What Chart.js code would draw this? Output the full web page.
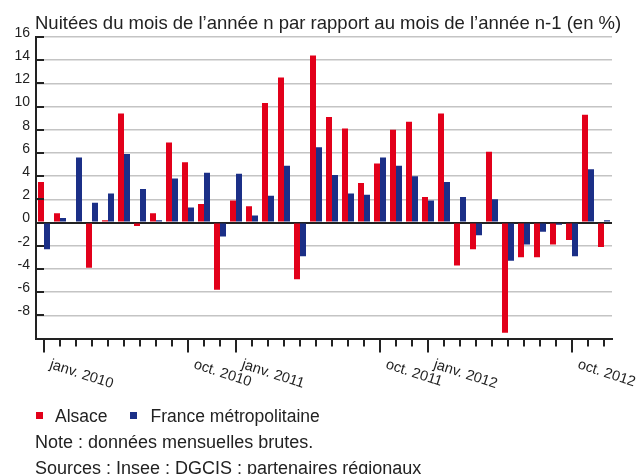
<!DOCTYPE html>
<html>
<head>
<meta charset="utf-8">
<script src="https://cdn.jsdelivr.net/npm/chart.js@4/dist/chart.umd.min.js"></script>
<style>
  html, body { margin: 0; padding: 0; background: #ffffff; }
  #c { display: block; }
</style>
</head>
<body>
<canvas id="c" width="637" height="474"></canvas>
<script>
// ---- Data ----
const months = [
  'janv. 2010','févr. 2010','mars 2010','avr. 2010','mai 2010','juin 2010',
  'juil. 2010','août 2010','sept. 2010','oct. 2010','nov. 2010','déc. 2010',
  'janv. 2011','févr. 2011','mars 2011','avr. 2011','mai 2011','juin 2011',
  'juil. 2011','août 2011','sept. 2011','oct. 2011','nov. 2011','déc. 2011',
  'janv. 2012','févr. 2012','mars 2012','avr. 2012','mai 2012','juin 2012',
  'juil. 2012','août 2012','sept. 2012','oct. 2012','nov. 2012','déc. 2012'
];
const alsace = [
  3.5, 0.8, 0.0, -3.9, 0.2, 9.4, -0.3, 0.8, 6.9, 5.2, 1.6, -5.8,
  1.9, 1.4, 10.3, 12.5, -4.9, 14.4, 9.1, 8.1, 3.4, 5.1, 8.0, 8.7,
  2.2, 9.4, -3.7, -2.3, 6.1, -9.5, -3.0, -3.0, -1.9, -1.5, 9.3, -2.1
];
const france = [
  -2.3, 0.4, 5.6, 1.7, 2.5, 5.9, 2.9, 0.2, 3.8, 1.3, 4.3, -1.2,
  4.2, 0.6, 2.3, 4.9, -2.9, 6.5, 4.1, 2.5, 2.4, 5.6, 4.9, 4.0,
  1.9, 3.5, 2.2, -1.1, 2.0, -3.3, -1.9, -0.8, -0.2, -2.9, 4.6, 0.2
];
const labelledMonths = ['janv. 2010','oct. 2010','janv. 2011','oct. 2011','janv. 2012','oct. 2012'];
const seriesNames = ['Alsace', 'France métropolitaine'];
const titleText = 'Nuitées du mois de l’année n par rapport au mois de l’année n-1 (en %)';
const noteText = 'Note : données mensuelles brutes.';
const sourceText = 'Sources : Insee ; DGCIS ; partenaires régionaux';
const yMin = -10, yMax = 16, yStep = 2;

// ---- Styles ----
const RED = '#e2001a';
const BLUE = '#1b2f87';
const AXIS = '#222222';
const GRID = '#c4c4c4';
const TEXT = '#222222';
const FONT = '"Liberation Sans", Arial, Helvetica, sans-serif';

const decor = {
  id: 'decor',
  afterDatasetsDraw(chart) {
    const { ctx, chartArea: a, scales: { x, y } } = chart;
    ctx.save();
    ctx.strokeStyle = AXIS;
    ctx.lineWidth = 2;
    // inward y tick marks
    y.ticks.forEach(t => {
      if (t.value === yMin) return;
      const py = Math.round(y.getPixelForValue(t.value));
      ctx.beginPath();
      ctx.moveTo(a.left, py);
      ctx.lineTo(a.left + 8, py);
      ctx.stroke();
    });
    // x tick marks below the axis
    months.forEach((m, i) => {
      const px = Math.round(x.getPixelForValue(i));
      const major = labelledMonths.includes(m);
      ctx.beginPath();
      ctx.moveTo(px, a.bottom);
      ctx.lineTo(px, a.bottom + (major ? 14 : 8));
      ctx.stroke();
    });
    ctx.restore();
  },
  afterDraw(chart) {
    const { ctx, chartArea: a, scales: { x } } = chart;
    ctx.save();
    ctx.fillStyle = TEXT;
    // rotated x labels
    ctx.font = '14.5px ' + FONT;
    ctx.textAlign = 'left';
    ctx.textBaseline = 'alphabetic';
    months.forEach((m, i) => {
      if (!labelledMonths.includes(m)) return;
      const px = x.getPixelForValue(i);
      ctx.save();
      ctx.translate(px + 5, a.bottom + 29.5);
      ctx.rotate(18 * Math.PI / 180);
      ctx.fillText(m, 0, 0);
      ctx.restore();
    });
    // title
    ctx.font = '18.5px ' + FONT;
    ctx.fillText(titleText, 35, 28.5);
    // legend
    ctx.font = '17.5px ' + FONT;
    ctx.fillStyle = RED;
    ctx.fillRect(36, 412, 7, 7);
    ctx.fillStyle = TEXT;
    ctx.fillText(seriesNames[0], 55, 422);
    ctx.fillStyle = BLUE;
    ctx.fillRect(130, 412, 7, 7);
    ctx.fillStyle = TEXT;
    ctx.fillText(seriesNames[1], 150.5, 422);
    // notes
    ctx.font = '18px ' + FONT;
    ctx.fillText(noteText, 35, 447.5);
    ctx.fillText(sourceText, 35, 473.5);
    ctx.restore();
  }
};

new Chart(document.getElementById('c'), {
  type: 'bar',
  data: {
    labels: months,
    datasets: [
      { label: seriesNames[0], data: alsace, backgroundColor: RED },
      { label: seriesNames[1], data: france, backgroundColor: BLUE }
    ]
  },
  options: {
    responsive: false,
    animation: false,
    events: [],
    layout: { padding: { left: 0, top: 37, right: 25, bottom: 0 } },
    datasets: { bar: { categoryPercentage: 0.75, barPercentage: 1.0 } },
    plugins: {
      legend: { display: false },
      title: { display: false },
      tooltip: { enabled: false }
    },
    scales: {
      x: {
        grid: { display: false, drawTicks: false },
        border: { display: true, color: AXIS, width: 2 },
        ticks: { display: false },
        afterFit: s => { s.height = 474 - 338.5; }
      },
      y: {
        min: yMin,
        max: yMax,
        border: { display: true, color: AXIS, width: 2 },
        grid: {
          drawTicks: false,
          color: c => (c.tick && (c.tick.value === 0 || c.tick.value === yMin)) ? AXIS : GRID,
          lineWidth: c => (c.tick && (c.tick.value === 0 || c.tick.value === yMin)) ? 2 : 1.5
        },
        ticks: {
          stepSize: yStep,
          padding: 6,
          labelOffset: -4,
          color: TEXT,
          font: { family: FONT, size: 14 },
          callback: v => (v === yMin ? '' : String(v))
        },
        afterFit: s => { s.width = 36; }
      }
    }
  },
  plugins: [decor]
});
</script>
</body>
</html>
